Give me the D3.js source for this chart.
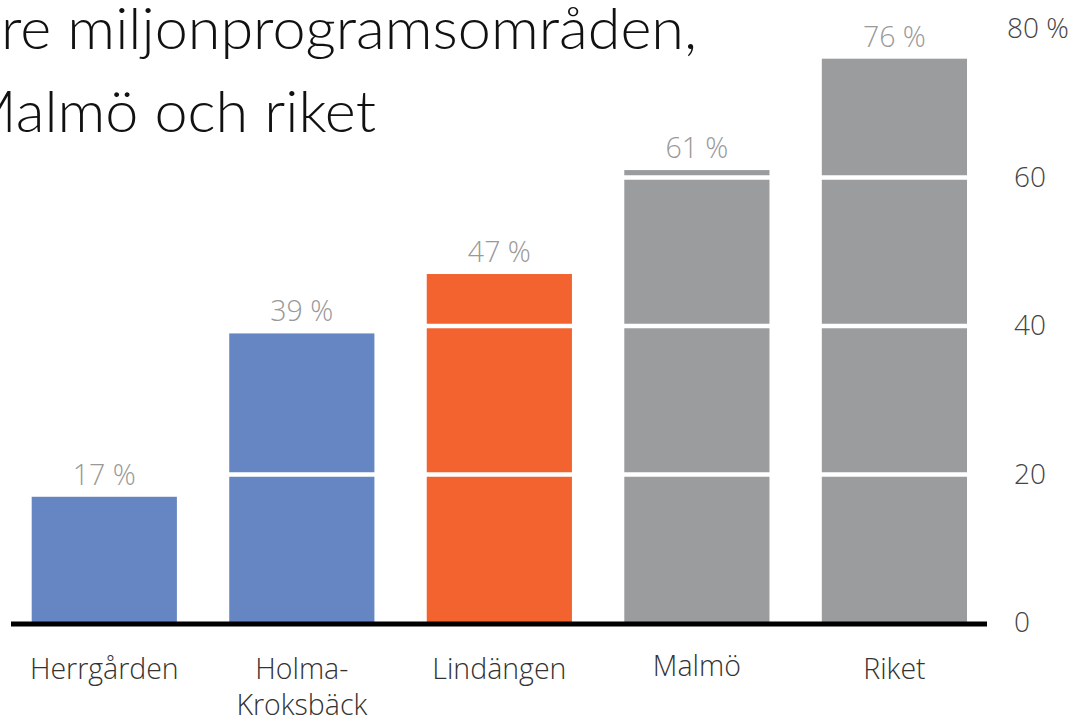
<!DOCTYPE html>
<html>
<head>
<meta charset="utf-8">
<script src="https://cdn.jsdelivr.net/npm/d3@7"></script>
<style>
  html, body { margin: 0; padding: 0; background: #fff; overflow: hidden; }
  svg { display: block; }
</style>
</head>
<body>
<svg id="chart" width="1076" height="724"></svg>
<script>
// ---- data ----
const categories = ["Herrgården", "Holma-Kroksbäck", "Lindängen", "Malmö", "Riket"];
const values = [17, 39, 47, 61, 76];
const barColors = ["#6586C3", "#6586C3", "#F3632F", "#9B9C9E", "#9B9C9E"];
const tickValues = [0, 20, 40, 60, 80];
const tickLabels = ["0", "20", "40", "60", "80 %"];
const gridValues = [20, 40, 60];
const titleLines = ["re miljonprogramsområden,", "Malmö och riket"];

const svg = d3.select("#chart");

const x = d3.scaleBand().domain(categories).range([31.7, 967]).paddingInner(0.265).paddingOuter(0);
const y = d3.scaleLinear().domain([0, 80]).range([623, 29]);

// bars
svg.append("g").selectAll("rect").data(categories).join("rect")
  .attr("x", d => x(d))
  .attr("width", x.bandwidth())
  .attr("y", (d, i) => y(values[i]))
  .attr("height", (d, i) => y(0) - y(values[i]))
  .attr("fill", (d, i) => barColors[i]);

// white gridlines over bars
svg.append("g").selectAll("line").data(gridValues).join("line")
  .attr("x1", 11).attr("x2", 987)
  .attr("y1", d => y(d)).attr("y2", d => y(d))
  .attr("stroke", "#fff").attr("stroke-width", 4.5);

// baseline
svg.append("line")
  .attr("x1", 11).attr("x2", 987)
  .attr("y1", y(0) + 1).attr("y2", y(0) + 1)
  .attr("stroke", "#000").attr("stroke-width", 5);

// value labels
svg.append("g").selectAll("text").data(categories).join("text")
  .attr("x", d => x(d) + x.bandwidth() / 2)
  .attr("y", (d, i) => y(values[i]) - 12)
  .attr("text-anchor", "middle")
  .style("font-family", "'Open Sans', sans-serif")
  .style("font-weight", 300)
  .style("font-size", "28.5px")
  .attr("fill", "#999")
  .text((d, i) => values[i] + " %");

// category labels
const catG = svg.append("g").selectAll("text").data(categories).join("text")
  .attr("text-anchor", "middle")
  .style("font-family", "'Open Sans', sans-serif")
  .style("font-weight", 300)
  .style("font-size", "28.5px")
  .attr("fill", "#333")
  .attr("transform", d => `translate(${x(d) + x.bandwidth() / 2},${d === "Malmö" ? 676 : 679})`);
catG.each(function(d) {
  const parts = d.includes("-") ? [d.slice(0, d.indexOf("-") + 1), d.slice(d.indexOf("-") + 1)] : [d];
  d3.select(this).selectAll("tspan").data(parts).join("tspan")
    .attr("x", 0)
    .attr("dy", (p, j) => j === 0 ? 0 : 36)
    .text(p => p);
});

// right axis
const axis = d3.axisRight(y).tickValues(tickValues).tickSize(0).tickPadding(0)
  .tickFormat((d, i) => tickLabels[i]);
const ax = svg.append("g").attr("transform", "translate(1014,0)").call(axis);
ax.select(".domain").remove();
ax.selectAll("text")
  .style("font-family", "'Open Sans', sans-serif")
  .style("font-weight", 300)
  .style("font-size", "28px")
  .attr("fill", "#444")
  .attr("x", d => d === 80 ? -7 : 0);

// title (clipped at left edge as in the reference)
const t1 = svg.append("text")
  .attr("x", 1).attr("y", 49)
  .style("font-family", "Lato, sans-serif")
  .style("font-weight", 300)
  .style("font-size", "58px")
  .attr("fill", "#111")
  .text(titleLines[0]);
const t2 = svg.append("text")
  .attr("x", 376).attr("y", 132)
  .attr("text-anchor", "end")
  .style("font-family", "Lato, sans-serif")
  .style("font-weight", 300)
  .style("font-size", "58px")
  .attr("fill", "#111")
  .text(titleLines[1]);
const n1 = t1.node().getComputedTextLength();
const ratio = 696 / n1;
t1.attr("textLength", 696).attr("lengthAdjust", "spacingAndGlyphs");
t2.attr("textLength", t2.node().getComputedTextLength() * ratio).attr("lengthAdjust", "spacingAndGlyphs");
</script>
</body>
</html>
